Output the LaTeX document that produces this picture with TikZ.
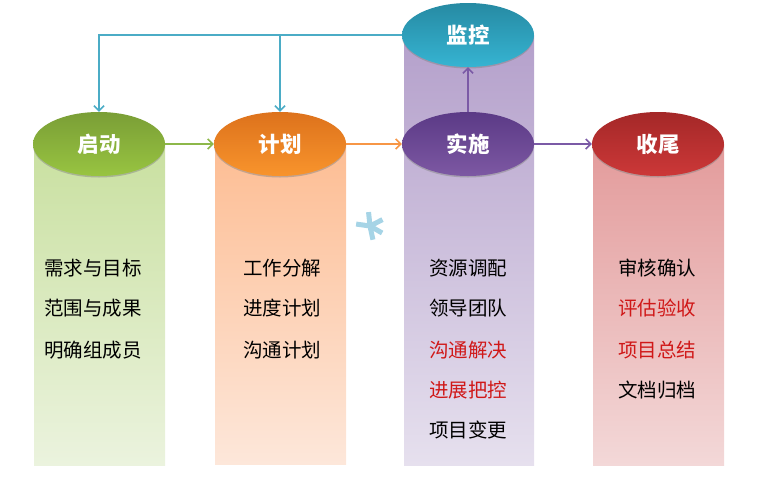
\documentclass[tikz,border=0pt]{standalone}
\usepackage{fontspec}
\newfontfamily\cjk{Noto Sans CJK SC}
\usetikzlibrary{shapes.geometric,arrows.meta,shadows}
\definecolor{qdTop}{HTML}{7A9E36}
\definecolor{qdBot}{HTML}{98C441}
\definecolor{qdColA}{HTML}{C9E0A0}
\definecolor{qdColB}{HTML}{EBF3DE}
\definecolor{jhTop}{HTML}{DD721C}
\definecolor{jhBot}{HTML}{F8942C}
\definecolor{jhColA}{HTML}{FDBD93}
\definecolor{jhColB}{HTML}{FDE7DA}
\definecolor{ssTop}{HTML}{5B3A86}
\definecolor{ssBot}{HTML}{7D58A3}
\definecolor{ssColA}{HTML}{B4A0CB}
\definecolor{ssColB}{HTML}{E6E0EE}
\definecolor{jkTop}{HTML}{268AA3}
\definecolor{jkBot}{HTML}{36B4D2}
\definecolor{swTop}{HTML}{A42828}
\definecolor{swBot}{HTML}{CC3838}
\definecolor{swColA}{HTML}{E39B9B}
\definecolor{swColB}{HTML}{F3D8D8}
\definecolor{backBlue}{HTML}{4BACC6}
\definecolor{starBlue}{HTML}{A6D4E6}
\definecolor{itemRed}{HTML}{D01818}
\definecolor{jhLine}{HTML}{F79646}
\definecolor{qdLine}{HTML}{8DB84A}
\definecolor{ssLine}{HTML}{7B5AA6}

\begin{document}
\begin{tikzpicture}[x=1pt,y=-1pt,
    stage/.style={ellipse, minimum width=132pt, minimum height=64pt, inner sep=0pt,
      text=white, font=\cjk\bfseries\fontsize{21.5}{24}\selectfont,
      drop shadow={shadow xshift=0pt, shadow yshift=-1.5pt, opacity=.45}},
    item/.style={font=\cjk\fontsize{19.5}{22}\selectfont},
    hot/.style={item, text=itemRed},
    link/.style={line width=1.5pt, -{Straight Barb[length=5pt,width=10pt]}}]
    \useasboundingbox (0,0) rectangle (760,477);

    % columns
    \shade[top color=qdColA, bottom color=qdColB] (34,144) rectangle (165,465);
    \shade[top color=jhColA, bottom color=jhColB] (215,144) rectangle (346,464);
    \shade[top color=ssColA, bottom color=ssColB] (404,35) rectangle (534,465);
    \shade[top color=swColA, bottom color=swColB] (593,144) rectangle (724,465);

    % stages
    \node[stage, top color=qdTop, bottom color=qdBot] (qidong) at (99,144) {启动};
    \node[stage, top color=jhTop, bottom color=jhBot] (jihua) at (280,144) {计划};
    \node[stage, top color=ssTop, bottom color=ssBot] (shishi) at (468,144) {实施};
    \node[stage, top color=swTop, bottom color=swBot] (shouwei) at (658,144) {收尾};
    \node[stage, top color=jkTop, bottom color=jkBot] (jiankong) at (468,35) {监控};

    % flow
    \draw[link, qdLine] (qidong) -- (jihua);
    \draw[link, jhLine] (jihua) -- (shishi);
    \draw[link, ssLine] (shishi) -- (shouwei);
    \draw[link, ssLine] (shishi) -- (jiankong);
    \coordinate (fork) at (jihua.north |- jiankong.west);
    \draw[link, backBlue] (jiankong.west) -| (qidong.north);
    \draw[link, backBlue] (fork) -- (jihua.north);

    % asterisk
    \foreach \a in {-96,-27,30,78,-172}
      \draw[line width=5pt, starBlue] (370,226) -- ++(\a:14);

    % tasks
    \node[item] (qd1) at (93,268) {需求与目标};
    \node[item] (qd2) at (93,308) {范围与成果};
    \node[item] (qd3) at (93,350) {明确组成员};

    \node[item] (jh1) at (282,268) {工作分解};
    \node[item] (jh2) at (282,308) {进度计划};
    \node[item] (jh3) at (282,350) {沟通计划};

    \node[item] (ss1) at (468,268) {资源调配};
    \node[item] (ss2) at (468,308) {领导团队};
    \node[hot] (ss3) at (468,350) {沟通解决};
    \node[hot] (ss4) at (468,390) {进展把控};
    \node[item] (ss5) at (468,430) {项目变更};

    \node[item] (sw1) at (657,268) {审核确认};
    \node[hot] (sw2) at (657,308) {评估验收};
    \node[hot] (sw3) at (657,350) {项目总结};
    \node[item] (sw4) at (657,390) {文档归档};
\end{tikzpicture}
\end{document}
